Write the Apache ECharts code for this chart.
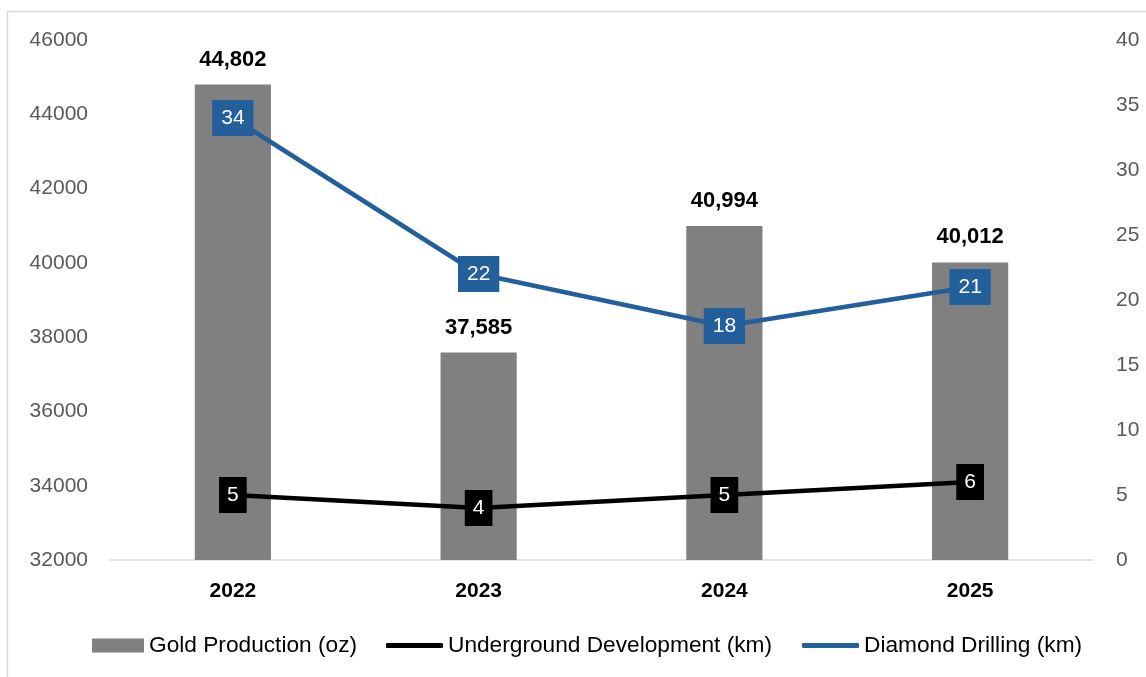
<!DOCTYPE html>
<html><head><meta charset="utf-8">
<script src="https://cdn.jsdelivr.net/npm/echarts@6/dist/echarts.min.js"></script>
<style>html,body{margin:0;padding:0;background:#fff}#c{width:1146px;height:677px}</style>
</head><body><div id="c"></div>
<script>
const categories = ['2022', '2023', '2024', '2025'];
const goldProduction = [44802, 37585, 40994, 40012];
const undergroundDev = [5, 4, 5, 6];
const diamondDrilling = [34, 22, 18, 21];
const leftTicks = { min: 32000, max: 46000, interval: 2000 };
const rightTicks = { min: 0, max: 40, interval: 5 };

const chart = echarts.init(document.getElementById('c'));
const F = 'Liberation Sans, Arial, sans-serif';
const legText = { fontSize: 22.7, color: '#000', fontFamily: F };
chart.setOption({
  animation: false,
  textStyle: { fontFamily: F },
  graphic: [{ type: 'rect', shape: { x: 7.5, y: 11.5, width: 1200, height: 700 }, style: { fill: 'none', stroke: '#d9d9d9', lineWidth: 1.5 }, silent: true }],
  grid: { left: 110, right: 53, top: 40, bottom: 117 },
  legend: [
    { left: 87, top: 629, itemWidth: 52, itemHeight: 14, textStyle: legText,
      data: [{ name: 'Gold Production (oz)', icon: 'rect' }] },
    { left: 381, top: 629, itemWidth: 57, itemHeight: 5, textStyle: legText,
      data: [{ name: 'Underground Development (km)', icon: 'roundRect' }] },
    { left: 797, top: 629, itemWidth: 57, itemHeight: 5, textStyle: legText,
      data: [{ name: 'Diamond Drilling (km)', icon: 'roundRect' }] }
  ],
  xAxis: {
    type: 'category', data: categories,
    axisLine: { lineStyle: { color: '#d9d9d9', width: 1.5 } },
    axisTick: { show: false },
    axisLabel: { fontSize: 21, fontWeight: 'bold', color: '#000', margin: 21 }
  },
  yAxis: [
    { type: 'value', min: leftTicks.min, max: leftTicks.max, interval: leftTicks.interval,
      splitLine: { show: false }, axisLine: { show: false }, axisTick: { show: false },
      axisLabel: { fontSize: 21, color: '#595959', margin: 22, formatter: v => String(v) } },
    { type: 'value', min: rightTicks.min, max: rightTicks.max, interval: rightTicks.interval,
      splitLine: { show: false }, axisLine: { show: false }, axisTick: { show: false },
      axisLabel: { fontSize: 21, color: '#595959', margin: 23, formatter: v => String(v) } }
  ],
  series: [
    { name: 'Gold Production (oz)', type: 'bar', data: goldProduction, barWidth: '31%',
      itemStyle: { color: '#808080' },
      label: { show: true, position: 'top', distance: 14, fontSize: 22, fontWeight: 'bold', color: '#000',
        formatter: p => p.value.toLocaleString('en-US') } },
    { name: 'Underground Development (km)', type: 'line', yAxisIndex: 1, data: undergroundDev,
      symbol: 'circle', symbolSize: 1, lineStyle: { color: '#000', width: 4.5 }, itemStyle: { color: '#000' },
      label: { show: true, position: 'inside', fontSize: 21, color: '#fff', backgroundColor: '#000', padding: [8, 8, 7, 8] } },
    { name: 'Diamond Drilling (km)', type: 'line', yAxisIndex: 1, data: diamondDrilling,
      symbol: 'circle', symbolSize: 1, lineStyle: { color: '#235f9b', width: 4.5 }, itemStyle: { color: '#235f9b' },
      label: { show: true, position: 'inside', fontSize: 21, color: '#fff', backgroundColor: '#235f9b', padding: [8, 9, 7, 9] } }
  ]
});
</script></body></html>
